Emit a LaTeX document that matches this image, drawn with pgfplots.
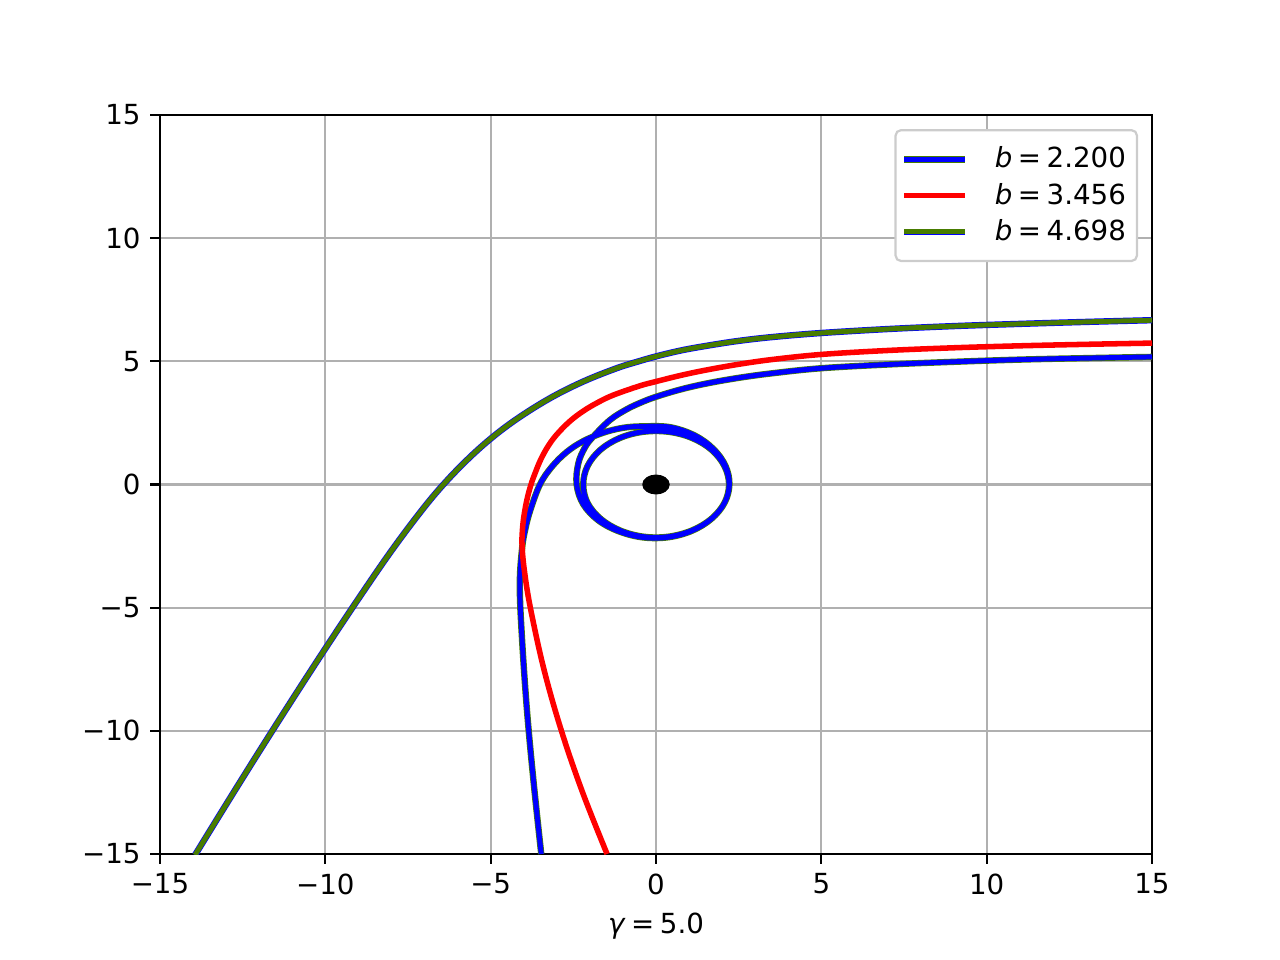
\documentclass[border=0pt]{standalone}
\usepackage{fontspec}
\setmainfont{DejaVu Sans}
\usepackage{pgfplots}
\pgfplotsset{compat=1.18}
\definecolor{mplgreen}{RGB}{72,124,0}
\definecolor{mplgrid}{RGB}{176,176,176}
\definecolor{legframe}{RGB}{204,204,204}

% b = 2.200 : spirals twice round the hole
\pgfplotstableread{
x y
-3.47 -15
-3.70 -12.1
-3.90 -9.2
-4.05 -6.3
-4.12 -4.1
-4.05 -2.6
-3.95 -1.8
-3.80 -1.04
-3.51 0
-3.15 0.72
-2.70 1.32
-2.20 1.76
-1.60 2.10
-1.00 2.30
-0.41 2.36
0.41 2.33
1.155 2.00
1.73 1.45
2.10 0.76
2.22 0
2.07 -0.75
1.67 -1.40
1.08 -1.87
0.37 -2.12
-0.37 -2.12
-1.08 -1.87
-1.67 -1.40
-2.07 -0.75
-2.20 0
-2.07 0.75
-1.68 1.41
-1.09 1.89
-0.38 2.14
0.38 2.14
1.09 1.89
1.68 1.41
2.07 0.75
2.21 0
2.07 -0.75
1.67 -1.40
1.085 -1.88
0.38 -2.14
-0.38 -2.15
-1.105 -1.91
-1.74 -1.46
-2.20 -0.80
-2.40 0
-2.35 0.855
-2.15 1.50
-1.90 1.94
-1.39 2.62
-0.89 3.05
-0.45 3.33
0 3.56
0.75 3.86
1.53 4.10
2.50 4.33
3.55 4.52
5.00 4.72
7.00 4.87
9.00 4.98
11.0 5.07
13.0 5.13
15.0 5.18
}\bshort

% b = 3.456
\pgfplotstableread{
x y
-1.48 -15
-2.22 -12.5
-2.86 -10.0
-3.39 -7.5
-3.80 -5.0
-3.98 -3.5
-4.05 -2.5
-4.04 -1.85
-3.99 -1.25
-3.90 -0.6
-3.78 0
-3.645 0.5
-3.49 1.0
-3.28 1.52
-3.02 2.0
-2.62 2.55
-2.20 2.98
-1.76 3.33
-1.29 3.63
-0.50 4.00
0 4.18
0.75 4.43
1.53 4.65
2.50 4.88
3.55 5.08
5.00 5.28
7.00 5.44
9.00 5.55
11.0 5.63
13.0 5.69
15.0 5.74
}\bmid

% b = 4.698
\pgfplotstableread{
x y
-13.94 -15.04
-13.00 -12.99
-12.00 -10.84
-11.00 -8.73
-10.00 -6.66
-9.00 -4.64
-8.00 -2.69
-7.09 -1.06
-6.43 0
-5.72 0.99
-5.00 1.86
-4.21 2.66
-3.21 3.50
-2.20 4.18
-1.19 4.72
-0.50 5.01
0 5.20
0.75 5.44
1.53 5.63
2.50 5.83
3.55 5.99
5.00 6.15
7.00 6.31
9.00 6.43
11.0 6.52
13.0 6.60
15.0 6.67
}\blong

\begin{document}
\begin{tikzpicture}
\begin{axis}[
    scale only axis,
    width=4.96in, height=3.695in,
    xmin=-15, xmax=15, ymin=-15, ymax=15,
    xtick={-15,-10,-5,0,5,10,15},
    ytick={-15,-10,-5,0,5,10,15},
    xticklabels={−15,−10,−5,0,5,10,15},
    yticklabels={−15,−10,−5,0,5,10,15},
    tick pos=left,
    tick align=outside,
    major tick length=3.5pt,
    every tick/.style={black, line width=0.8pt},
    axis line style={line width=0.8pt},
    grid=major,
    grid style={mplgrid, line width=0.8pt},
    tick label style={font=\fontsize{10}{12}\selectfont},
    xlabel={\textit{γ}\hspace{0.2em}=\hspace{0.2em}5.0},
    xlabel style={font=\fontsize{10}{12}\selectfont},
    legend style={
        at={(0.986,0.981)}, anchor=north east,
        draw=legframe, line width=0.8pt, rounded corners=2pt,
        fill=white, font=\fontsize{10}{12}\selectfont,
        row sep=0pt, inner xsep=2pt, inner ysep=4pt,
    },
    legend cell align=left,
]
\coordinate (sw) at (rel axis cs:0,0);

% legend entries (two-coloured lines)
\addlegendimage{legend image code/.code={
    \draw[mplgreen, line width=2.4pt] (0pt,0pt) -- (22pt,0pt);
    \draw[blue, line width=1.7pt] (0pt,0pt) -- (22pt,0pt);}}
\addlegendentry{\hspace{7.5pt}\textit{b}\hspace{0.2em}=\hspace{0.2em}2.200}
\addlegendimage{legend image code/.code={
    \draw[red, line width=2pt] (0pt,0pt) -- (22pt,0pt);}}
\addlegendentry{\hspace{7.5pt}\textit{b}\hspace{0.2em}=\hspace{0.2em}3.456}
\addlegendimage{legend image code/.code={
    \draw[blue, line width=2.4pt] (0pt,0pt) -- (22pt,0pt);
    \draw[mplgreen, line width=1.7pt] (0pt,0pt) -- (22pt,0pt);}}
\addlegendentry{\hspace{7.5pt}\textit{b}\hspace{0.2em}=\hspace{0.2em}4.698}

\addplot[smooth, tension=0.6, mplgreen, line width=2.3pt, forget plot] table[x=x, y=y] {\bshort};
\addplot[smooth, tension=0.6, blue, line width=1.8pt, forget plot] table[x=x, y=y] {\bshort};
\addplot[smooth, tension=0.6, red, line width=2pt, forget plot] table[x=x, y=y] {\bmid};
\addplot[smooth, tension=0.6, blue, line width=2.3pt, forget plot] table[x=x, y=y] {\blong};
\addplot[smooth, tension=0.6, mplgreen, line width=1.8pt, forget plot] table[x=x, y=y] {\blong};

% the hole
\addplot[only marks, mark=*, mark size=3.4pt,
    mark options={black, xscale=1.4}, forget plot] coordinates {(0,0)};
\end{axis}
\pgfresetboundingbox
\path (sw) ++(-0.8in,-0.53in) rectangle ++(6.4in,4.8in);
\end{tikzpicture}
\end{document}
